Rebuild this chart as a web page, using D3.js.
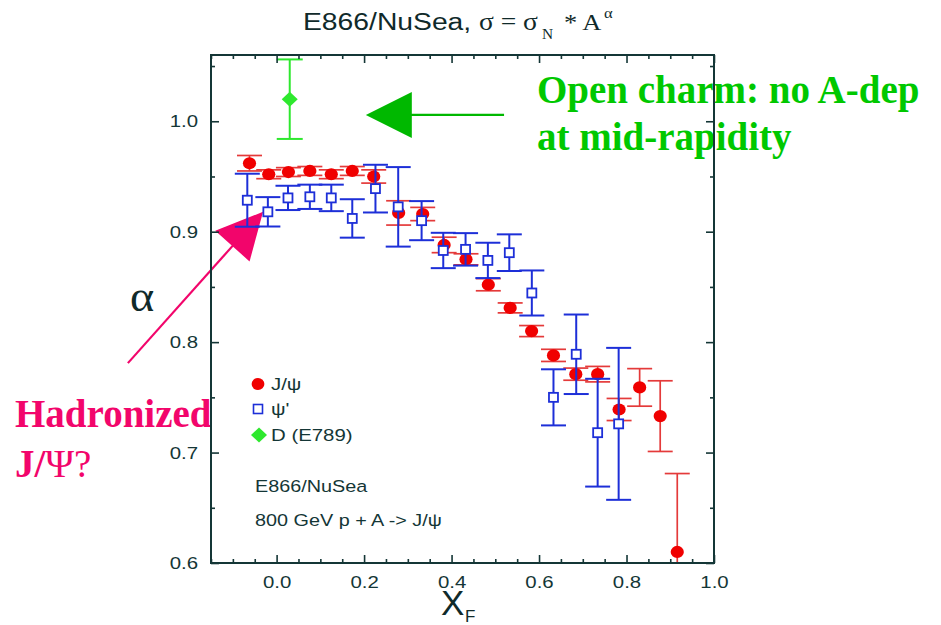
<!DOCTYPE html>
<html>
<head>
<meta charset="utf-8">
<script src="https://cdn.jsdelivr.net/npm/d3@7"></script>
<style>
  body { margin: 0; background: #fff; }
  svg { display: block; }
</style>
</head>
<body>
<svg id="chart" width="941" height="625"></svg>
<script>
// J/psi nuclear dependence exponent alpha vs xF
const jpsiX     = [-0.062, -0.018, 0.027, 0.076, 0.125, 0.173, 0.222, 0.279, 0.334, 0.383, 0.433,
                   0.484, 0.534, 0.583, 0.633, 0.684, 0.734, 0.783, 0.830, 0.877, 0.916];
const jpsiAlpha = [0.962, 0.952, 0.954, 0.955, 0.952, 0.955, 0.950, 0.917, 0.916, 0.888, 0.875,
                   0.852, 0.831, 0.810, 0.788, 0.771, 0.771, 0.739, 0.759, 0.733, 0.610];
const jpsiErr   = [0.007, 0.004, 0.004, 0.004, 0.004, 0.004, 0.006, 0.011, 0.006, 0.007, 0.005,
                   0.0055, 0.0045, 0.005, 0.0055, 0.0055, 0.007, 0.010, 0.017, 0.032, 0.071];

// psi' (psi-prime)
const psiX      = [-0.067, -0.020, 0.026, 0.076, 0.125, 0.173, 0.226, 0.278, 0.3315, 0.381, 0.432,
                   0.483, 0.532, 0.5835, 0.633, 0.685, 0.734, 0.782];
const psiAlpha  = [0.9285, 0.918, 0.9306, 0.9316, 0.9306, 0.912, 0.939, 0.9225, 0.910, 0.883, 0.884,
                   0.874, 0.881, 0.8445, 0.750, 0.789, 0.718, 0.726];
const psiErr    = [0.024, 0.0133, 0.011, 0.011, 0.012, 0.0174, 0.0216, 0.036, 0.0177, 0.016, 0.0147,
                   0.016, 0.0166, 0.0204, 0.0254, 0.036, 0.0488, 0.0688];

// Open charm D mesons (E789)
const dX     = [0.030];
const dAlpha = [1.020];
const dErr   = [0.036];

// Axis ticks
const xMajorTicks = [0.0, 0.2, 0.4, 0.6, 0.8, 1.0];
const xMinorTicks = [-0.15, -0.1, -0.05, 0.05, 0.1, 0.15, 0.25, 0.3, 0.35, 0.45, 0.5, 0.55, 0.65, 0.7, 0.75, 0.85, 0.9, 0.95];
const yMajorTicks = [0.6, 0.7, 0.8, 0.9, 1.0];
const yMinorTicks = [0.65, 0.75, 0.85, 0.95, 1.05];

// Legend entries
const legendLabels = ["J/\u03c8", "\u03c8'", "D (E789)"];

const svg = d3.select("#chart");
const SANS = "'Liberation Sans', Arial, Helvetica, sans-serif";
const SERIF = "'Liberation Serif', 'Times New Roman', serif";
const AXIS = "#143636";
const RED = "#f00000", RED_BAR = "#e43a3a";
const BLUE = "#1d2fd8";
const GREEN = "#2ee82e";
const SX = 1.2;   // horizontal stretch of the plot's lettering

const frame = { left: 211, top: 55, right: 714, bottom: 563 };
const x = d3.scaleLinear().domain([-0.15, 1.0]).range([frame.left, frame.right]);
const y = d3.scaleLinear().domain([0.6, 1.06]).range([frame.bottom, frame.top]);

function zip(xs, ys, es) { return xs.map((v, i) => ({ x: v, y: ys[i], e: es[i] })); }
const jpsi = zip(jpsiX, jpsiAlpha, jpsiErr);
const psi  = zip(psiX, psiAlpha, psiErr);
const dmes = zip(dX, dAlpha, dErr);

function stext(parent, px, py, str, size, family, fill, sx) {
  return parent.append("text")
    .attr("transform", `translate(${px},${py}) scale(${sx === undefined ? SX : sx},1)`)
    .attr("font-family", family).attr("font-size", size).attr("fill", fill)
    .text(str);
}

// ---- Annotations (drawn under the frame) ----
const ann = svg.append("g");
function arrow(g, x0, y0, x1, y1, color, lw) {
  const dx = x1 - x0, dy = y1 - y0, L = Math.hypot(dx, dy);
  const ux = dx / L, uy = dy / L, head = 46, half = 23;
  const bx = x1 - ux * head, by = y1 - uy * head;
  g.append("line").attr("x1", x0).attr("y1", y0).attr("x2", bx + ux * 2).attr("y2", by + uy * 2)
    .attr("stroke", color).attr("stroke-width", lw);
  g.append("polygon")
    .attr("points", [[x1, y1], [bx - uy * half, by + ux * half], [bx + uy * half, by - ux * half]].map(p => p.join(",")).join(" "))
    .attr("fill", color);
}
// green arrow pointing at the D point, pink arrow pointing at low-xF psi'
arrow(ann, x(0.52), y(1.0057), x(0.204), y(1.0057), "#00b800", 2.2);
arrow(ann, x(-0.34), y(0.781), x(-0.031), y(0.918), "#f2056b", 2.2);

const greenTxt = ann.append("text").attr("font-family", SERIF).attr("font-weight", "bold")
  .attr("font-size", 39).attr("fill", "#00c800");
greenTxt.append("tspan").attr("x", 537).attr("y", 103).text("Open charm: no A-dep");
greenTxt.append("tspan").attr("x", 537).attr("y", 150).text("at mid-rapidity");

const pinkTxt = ann.append("text").attr("font-family", SERIF).attr("font-weight", "bold")
  .attr("font-size", 39).attr("fill", "#f2056b");
pinkTxt.append("tspan").attr("x", 15).attr("y", 427).text("Hadronized");
const l2 = ann.append("text").attr("font-family", SERIF).attr("font-size", 39).attr("fill", "#f2056b")
  .attr("x", 15).attr("y", 477);
l2.append("tspan").attr("font-weight", "bold").text("J/");
l2.append("tspan").text("\u03a8?");

// ---- Data ----
svg.append("clipPath").attr("id", "plotClip").append("rect")
  .attr("x", frame.left).attr("y", frame.top)
  .attr("width", frame.right - frame.left).attr("height", frame.bottom - frame.top);
const plot = svg.append("g").attr("clip-path", "url(#plotClip)");

function errorBars(g, data, color, lw, cap) {
  const eb = g.append("g").attr("stroke", color).attr("stroke-width", lw).attr("fill", "none");
  eb.selectAll("line.v").data(data).join("line").attr("class", "v")
    .attr("x1", d => x(d.x)).attr("x2", d => x(d.x))
    .attr("y1", d => y(d.y + d.e)).attr("y2", d => y(d.y - d.e));
  eb.selectAll("line.t").data(data).join("line").attr("class", "t")
    .attr("x1", d => x(d.x) - cap).attr("x2", d => x(d.x) + cap)
    .attr("y1", d => y(d.y + d.e)).attr("y2", d => y(d.y + d.e));
  eb.selectAll("line.b").data(data).join("line").attr("class", "b")
    .attr("x1", d => x(d.x) - cap).attr("x2", d => x(d.x) + cap)
    .attr("y1", d => y(d.y - d.e)).attr("y2", d => y(d.y - d.e));
}

errorBars(plot, jpsi, RED_BAR, 1.7, 12.5);
plot.append("g").selectAll("ellipse").data(jpsi).join("ellipse")
  .attr("cx", d => x(d.x)).attr("cy", d => y(d.y)).attr("rx", 6.6).attr("ry", 6.1).attr("fill", RED);

errorBars(plot, psi, BLUE, 2, 12.5);
plot.append("g").selectAll("rect").data(psi).join("rect")
  .attr("x", d => x(d.x) - 4.5).attr("y", d => y(d.y) - 4.5).attr("width", 9).attr("height", 9)
  .attr("fill", "#fff").attr("stroke", BLUE).attr("stroke-width", 1.8);

errorBars(plot, dmes, GREEN, 2, 13);
plot.append("g").selectAll("path").data(dmes).join("path")
  .attr("d", d => { const cx = x(d.x), cy = y(d.y); return `M${cx - 8},${cy}L${cx},${cy - 7.5}L${cx + 8},${cy}L${cx},${cy + 7.5}Z`; })
  .attr("fill", GREEN);

// ---- Axes and frame ----
function styleAxis(g) {
  g.select(".domain").remove();
  g.selectAll("line").attr("stroke", AXIS).attr("stroke-width", 1.6);
  g.selectAll("text").attr("font-family", SANS).attr("font-size", 17).attr("fill", AXIS);
}
const fmt = d3.format(".1f");
const axB = svg.append("g").attr("transform", `translate(0,${frame.bottom})`);
axB.append("g").call(d3.axisBottom(x).tickValues(xMajorTicks).tickSize(-8).tickPadding(13).tickFormat(fmt)).call(styleAxis);
axB.append("g").call(d3.axisBottom(x).tickValues(xMinorTicks).tickSize(-4).tickFormat("")).call(styleAxis);
axB.selectAll(".tick text").attr("transform", `scale(${SX},1)`);

const axT = svg.append("g").attr("transform", `translate(0,${frame.top})`);
axT.append("g").call(d3.axisTop(x).tickValues(xMajorTicks).tickSize(-8).tickFormat("")).call(styleAxis);
axT.append("g").call(d3.axisTop(x).tickValues(xMinorTicks).tickSize(-4).tickFormat("")).call(styleAxis);

const axL = svg.append("g").attr("transform", `translate(${frame.left},0)`);
axL.append("g").call(d3.axisLeft(y).tickValues(yMajorTicks).tickSize(-8).tickPadding(13).tickFormat(fmt)).call(styleAxis);
axL.append("g").call(d3.axisLeft(y).tickValues(yMinorTicks).tickSize(-4).tickFormat("")).call(styleAxis);
axL.selectAll(".tick text").attr("x", -13 / SX).attr("transform", `scale(${SX},1)`);

const axR = svg.append("g").attr("transform", `translate(${frame.right},0)`);
axR.append("g").call(d3.axisRight(y).tickValues(yMajorTicks).tickSize(-8).tickFormat("")).call(styleAxis);
axR.append("g").call(d3.axisRight(y).tickValues(yMinorTicks).tickSize(-4).tickFormat("")).call(styleAxis);

svg.append("rect").attr("x", frame.left).attr("y", frame.top)
  .attr("width", frame.right - frame.left).attr("height", frame.bottom - frame.top)
  .attr("fill", "none").attr("stroke", AXIS).attr("stroke-width", 2);

// ---- Axis titles ----
stext(svg, 130, 311, "\u03b1", 44, SERIF, "#102a2a", 1.05);
stext(svg, 441, 615, "X", 35, SANS, "#102a2a", 1);
stext(svg, 465, 622, "F", 17, SANS, "#102a2a", 1);

// ---- Title: E866/NuSea, sigma = sigma_N * A^alpha ----
const titleCol = "#102a2a";
stext(svg, 303, 30, "E866/NuSea,", 23, SANS, titleCol, 1.23);
stext(svg, 479, 30, "\u03c3 = \u03c3", 25, SERIF, titleCol, 1.1);
stext(svg, 542, 39, "N", 14, SERIF, titleCol, 1.1);
stext(svg, 564, 30, "* A", 24, SERIF, titleCol, 1.1);
stext(svg, 604, 18, "\u03b1", 15, SERIF, titleCol, 1.1);

// ---- Legend ----
const leg = svg.append("g");
leg.append("ellipse").attr("cx", 258).attr("cy", 384).attr("rx", 6.4).attr("ry", 6).attr("fill", RED);
leg.append("rect").attr("x", 253.5).attr("y", 404.5).attr("width", 9).attr("height", 9)
  .attr("fill", "#fff").attr("stroke", BLUE).attr("stroke-width", 1.6);
leg.append("path").attr("d", "M251,435L259,427.5L267,435L259,442.5Z").attr("fill", GREEN);
[390, 415, 441].forEach((by, i) => stext(leg, 271, by, legendLabels[i], 17, SANS, AXIS));

stext(svg, 255, 492, "E866/NuSea", 16.5, SANS, AXIS);
stext(svg, 255, 526, "800 GeV p + A -> J/\u03c8", 16.5, SANS, AXIS);
</script>
</body>
</html>
